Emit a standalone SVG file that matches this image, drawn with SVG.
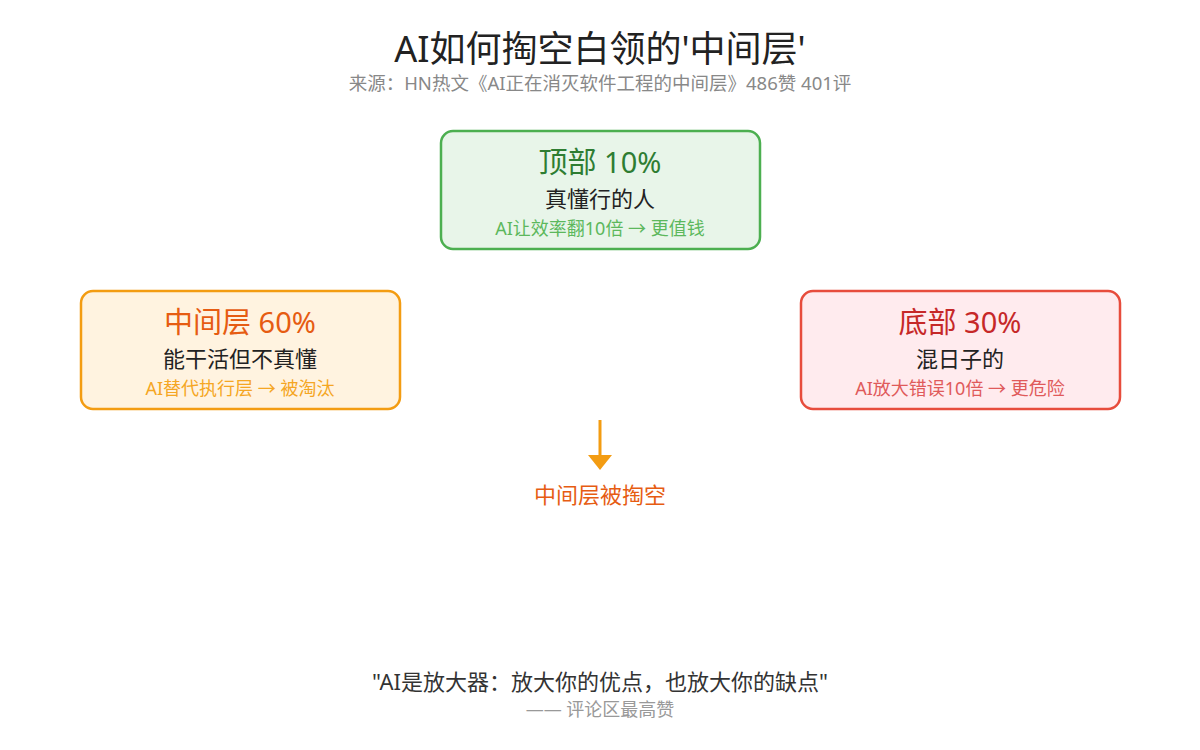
<svg xmlns="http://www.w3.org/2000/svg" width="1200" height="750" viewBox="0 0 1200 750">
<style>
text{font-family:"Noto Sans","Noto Sans CJK SC",sans-serif;text-anchor:middle}
.box{stroke-width:2.5}
.h{font-size:29px}
.m{font-size:22px;fill:#222}
.s{font-size:18px}
</style>
<defs>
<marker id="ah" markerWidth="15" markerHeight="24" refX="0" refY="12" orient="auto" markerUnits="userSpaceOnUse">
<path d="M0,0 L15,12 L0,24 Z" fill="#f39c12"/>
</marker>
</defs>
<rect width="1200" height="750" fill="#ffffff"/>
<g id="title">
<text x="600" y="62" font-size="36" fill="#222">AI如何掏空白领的'中间层'</text>
<text x="600" y="90" font-size="18.5" fill="#888">来源：HN热文《AI正在消灭软件工程的中间层》486赞 401评</text>
</g>
<g id="top">
<rect class="box" x="441" y="131" width="319" height="118" rx="12" fill="#e8f5e9" stroke="#4caf50"/>
<text class="h" x="600" y="173" fill="#2e7d32">顶部 10%</text>
<text class="m" x="600" y="207">真懂行的人</text>
<text class="s" x="600" y="235" fill="#5cb85c">AI让效率翻10倍 → 更值钱</text>
</g>
<g id="middle">
<rect class="box" x="81" y="291" width="319" height="118" rx="12" fill="#fff3e0" stroke="#f39c12"/>
<text class="h" x="240" y="333" fill="#e65c12">中间层 60%</text>
<text class="m" x="240" y="367">能干活但不真懂</text>
<text class="s" x="240" y="395" fill="#f5a623">AI替代执行层 → 被淘汰</text>
</g>
<g id="bottom">
<rect class="box" x="801" y="291" width="319" height="118" rx="12" fill="#ffebee" stroke="#e74c3c"/>
<text class="h" x="960" y="333" fill="#c62828">底部 30%</text>
<text class="m" x="960" y="367">混日子的</text>
<text class="s" x="960" y="395" fill="#e05a5a">AI放大错误10倍 → 更危险</text>
</g>
<g id="connectors">
<line x1="600" y1="420" x2="600" y2="455" stroke="#f39c12" stroke-width="3" marker-end="url(#ah)"/>
</g>
<g id="result">
<text x="600" y="503" font-size="22" fill="#e65c12">中间层被掏空</text>
</g>
<g id="quote">
<text x="600" y="690" font-size="22" fill="#333">"AI是放大器：放大你的优点，也放大你的缺点"</text>
<text x="600" y="716" font-size="18" fill="#999">—— 评论区最高赞</text>
</g>
</svg>
